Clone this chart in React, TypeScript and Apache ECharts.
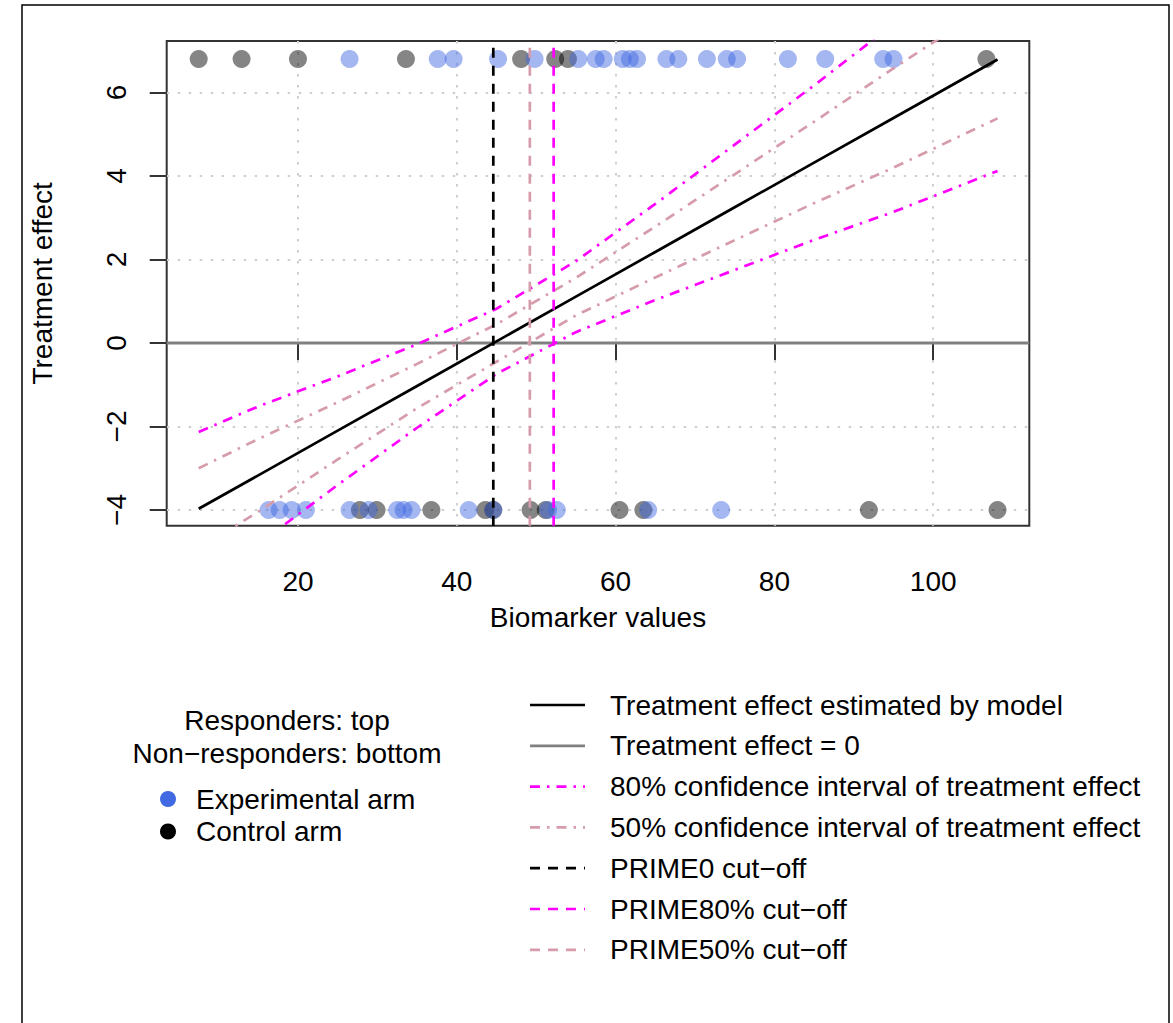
import React, { useEffect, useRef } from "react";
import * as echarts from "echarts";

// Axis ticks
const xTicks = [20, 40, 60, 80, 100];
const yTicks = [-4, -2, 0, 2, 4, 6];
const X_MIN = 3.47;
const X_MAX = 112.1;
const Y_MIN = -4.376;
const Y_MAX = 7.233;

// Rows where responders / non-responders are drawn
const RESP_Y = 6.8;
const NONRESP_Y = -4;

// Biomarker values of patients
const expResponders = [26.5, 37.6, 39.6, 45.2, 49.8, 55.3, 57.5, 58.5, 60.9, 61.8, 62.7, 66.4, 67.9, 71.5, 74.0, 75.3, 81.7, 86.4, 93.7, 95.0];
const ctrlResponders = [7.5, 12.9, 20.0, 33.6, 48.1, 52.4, 54.0, 106.7];
const expNonResponders = [16.3, 17.7, 19.2, 21.0, 26.5, 28.9, 32.5, 33.3, 34.3, 41.5, 44.6, 51.5, 52.6, 64.1, 73.3];
const ctrlNonResponders = [27.8, 29.9, 36.8, 43.6, 44.6, 49.3, 51.2, 60.5, 63.5, 91.9, 108.1];

// Estimated treatment effect and confidence bands
const curveX = [7.5, 15, 25, 35, 45, 55, 65, 75, 85, 95, 108.1];
const estEffect = [-3.97, -3.17, -2.1, -1.03, 0.04, 1.11, 2.18, 3.25, 4.32, 5.39, 6.79];
const ci80Upper = [-2.13, -1.52, -0.8, -0.03, 0.82, 1.96, 3.33, 4.75, 6.17, 7.64, 9.46];
const ci80Lower = [-5.81, -4.82, -3.4, -2.03, -0.74, 0.26, 1.03, 1.75, 2.47, 3.14, 4.12];
const ci50Upper = [-3.0, -2.3, -1.42, -0.5, 0.45, 1.56, 2.79, 4.04, 5.3, 6.58, 8.2];
const ci50Lower = [-4.94, -4.04, -2.79, -1.56, -0.45, 0.66, 1.57, 2.46, 3.35, 4.2, 5.38];

// Cut-offs
const cutPrime0 = 44.6;
const cutPrime80 = 52.2;
const cutPrime50 = 49.2;

const leftLegendTitle = ["Responders: top", "Non\u2212responders: bottom"];
const leftLegendItems = ["Experimental arm", "Control arm"];
const rightLegendItems = [
  "Treatment effect estimated by model",
  "Treatment effect = 0",
  "80% confidence interval of treatment effect",
  "50% confidence interval of treatment effect",
  "PRIME0 cut\u2212off",
  "PRIME80% cut\u2212off",
  "PRIME50% cut\u2212off",
];

const FONT = "Liberation Sans, Arial, Helvetica, sans-serif";
const FS = 28;
const BLUE_T = "rgba(65,105,225,0.6)";
const BLACK_T = "rgba(0,0,0,0.6)";
const MAGENTA = "#FF00FF";
const PINK = "#D69CAB";
const DOTDASH = [10, 7, 2.5, 7];
const DASHED = [10, 8];
const LW = 2.7;

const GRID = { left: 166.7, top: 41, right: 1029.3, bottom: 525.7 };

const fmtNum = (v: number) => String(v).replace("-", "\u2212");

const App: React.FC = () => {
  const ref = useRef<HTMLDivElement>(null);

  useEffect(() => {
    if (!ref.current) return;
    const chart = echarts.init(ref.current, undefined, { renderer: "svg" });

    const pairs = (xs: number[], ys: number[]) => xs.map((x, i) => [x, ys[i]]);
    const row = (xs: number[], y: number) => xs.map((x) => [x, y]);
    const vline = (x: number) => [
      [x, Y_MIN],
      [x, Y_MAX],
    ];

    const lineSeries = (name: string, data: number[][], color: string, width: number, type: any, z = 3) => ({
      name,
      type: "line",
      data,
      showSymbol: false,
      symbol: "none",
      lineStyle: { color, width, type },
      clip: true,
      z,
      silent: true,
    });

    const legendLineStyles = [
      { stroke: "#000", lineDash: null },
      { stroke: "#808080", lineDash: null },
      { stroke: MAGENTA, lineDash: DOTDASH },
      { stroke: PINK, lineDash: DOTDASH },
      { stroke: "#000", lineDash: DASHED },
      { stroke: MAGENTA, lineDash: DASHED },
      { stroke: PINK, lineDash: DASHED },
    ];
    const rowY0 = 705;
    const rowStep = 40.8;

    const graphics: any[] = [
      // outer frame
      {
        type: "rect",
        shape: { x: 22, y: 5, width: 1147, height: 1040 },
        style: { fill: "none", stroke: "#000", lineWidth: 1.5 },
        silent: true,
      },
      // y axis title
      {
        type: "text",
        x: 42,
        y: 283.4,
        rotation: Math.PI / 2,
        style: { text: "Treatment effect", font: `${FS}px ${FONT}`, fill: "#000", align: "center", verticalAlign: "middle" },
      },
      // x axis title
      {
        type: "text",
        x: 598,
        y: 617,
        style: { text: "Biomarker values", font: `${FS}px ${FONT}`, fill: "#000", align: "center", verticalAlign: "middle" },
      },
      // left legend
      ...leftLegendTitle.map((t, i) => ({
        type: "text",
        x: 287,
        y: 720 + i * 33,
        style: { text: t, font: `${FS}px ${FONT}`, fill: "#000", align: "center", verticalAlign: "middle" },
      })),
      ...leftLegendItems.map((t, i) => ({
        type: "text",
        x: 196,
        y: 799 + i * 32.5,
        style: { text: t, font: `${FS}px ${FONT}`, fill: "#000", align: "left", verticalAlign: "middle" },
      })),
      { type: "circle", shape: { cx: 168, cy: 799, r: 8 }, style: { fill: "#4169E1" } },
      { type: "circle", shape: { cx: 168, cy: 831.5, r: 8 }, style: { fill: "#000" } },
      // right legend
      ...rightLegendItems.map((t, i) => ({
        type: "text",
        x: 610,
        y: rowY0 + i * rowStep,
        style: { text: t, font: `${FS}px ${FONT}`, fill: "#000", align: "left", verticalAlign: "middle" },
      })),
      ...legendLineStyles.map((s, i) => ({
        type: "line",
        shape: { x1: 530, y1: rowY0 + i * rowStep, x2: 585, y2: rowY0 + i * rowStep },
        style: { stroke: s.stroke, lineWidth: LW, lineDash: s.lineDash || undefined },
      })),
    ];

    const option: any = {
      animation: false,
      backgroundColor: "#fff",
      grid: {
        left: GRID.left,
        top: GRID.top,
        width: GRID.right - GRID.left,
        height: GRID.bottom - GRID.top,
        show: true,
        borderColor: "#333",
        borderWidth: 2,
        backgroundColor: "transparent",
        containLabel: false,
        outerBoundsMode: "none",
      },
      xAxis: {
        type: "value",
        min: X_MIN,
        max: X_MAX,
        axisLine: { show: false },
        axisTick: { show: true, inside: false, length: 17, customValues: xTicks, lineStyle: { color: "#333", width: 2 } },
        axisLabel: {
          customValues: xTicks,
          margin: 42,
          fontSize: FS,
          lineHeight: FS,
          color: "#000",
          fontFamily: FONT,
          formatter: fmtNum,
        },
        splitLine: { show: true, lineStyle: { color: "#cfcfcf", width: 2, type: [2.5, 8.5] } },
      },
      yAxis: {
        type: "value",
        min: Y_MIN,
        max: Y_MAX,
        axisLine: { show: false },
        axisTick: { show: true, inside: false, length: 17, customValues: yTicks, lineStyle: { color: "#333", width: 2 } },
        axisLabel: {
          customValues: yTicks,
          rotate: 90,
          margin: 36,
          fontSize: FS,
          lineHeight: FS,
          color: "#000",
          fontFamily: FONT,
          formatter: fmtNum,
        },
        splitLine: { show: true, lineStyle: { color: "#cfcfcf", width: 2, type: [2.5, 8.5] } },
      },
      graphic: graphics,
      series: [
        {
          name: "Control arm",
          type: "scatter",
          data: [...row(ctrlResponders, RESP_Y), ...row(ctrlNonResponders, NONRESP_Y)],
          symbol: "circle",
          symbolSize: 18,
          itemStyle: { color: BLACK_T },
          z: 2,
          silent: true,
        },
        {
          name: "Experimental arm",
          type: "scatter",
          data: [...row(expResponders, RESP_Y), ...row(expNonResponders, NONRESP_Y)],
          symbol: "circle",
          symbolSize: 18,
          itemStyle: { color: BLUE_T },
          z: 2,
          silent: true,
        },
        lineSeries("Treatment effect = 0", [
          [X_MIN, 0],
          [X_MAX, 0],
        ], "#808080", 3, "solid"),
        lineSeries("Treatment effect estimated by model", pairs(curveX, estEffect), "#000", LW, "solid"),
        lineSeries("80% CI upper", pairs(curveX, ci80Upper), MAGENTA, LW, DOTDASH),
        lineSeries("80% CI lower", pairs(curveX, ci80Lower), MAGENTA, LW, DOTDASH),
        lineSeries("50% CI upper", pairs(curveX, ci50Upper), PINK, LW, DOTDASH),
        lineSeries("50% CI lower", pairs(curveX, ci50Lower), PINK, LW, DOTDASH),
        lineSeries("PRIME0 cut-off", vline(cutPrime0), "#000", LW, DASHED),
        lineSeries("PRIME80% cut-off", vline(cutPrime80), MAGENTA, LW, DASHED),
        lineSeries("PRIME50% cut-off", vline(cutPrime50), PINK, LW, DASHED),
      ],
    };

    chart.setOption(option);
    return () => chart.dispose();
  }, []);

  return (
    <div
      ref={ref}
      style={{ position: "absolute", left: 0, top: 0, width: 1173, height: 1023, background: "#fff" }}
    />
  );
};

export default App;
